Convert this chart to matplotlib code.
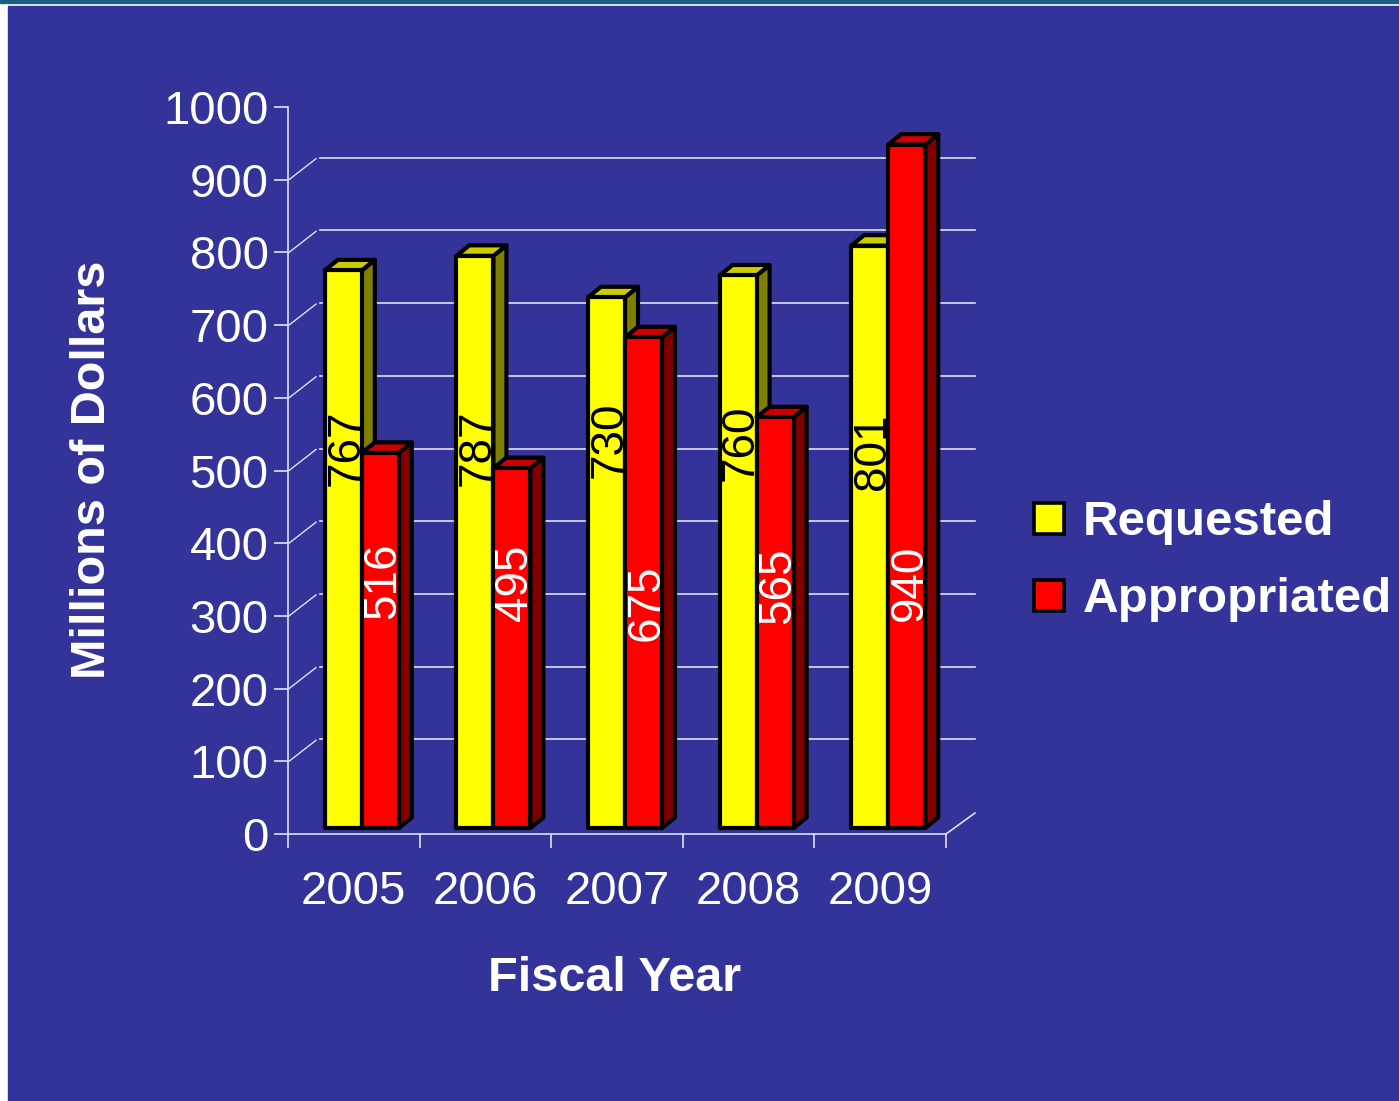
import matplotlib
matplotlib.use("Agg")
import matplotlib.pyplot as plt
from matplotlib.patches import Rectangle, Polygon

plt.rcParams['font.family'] = ['Liberation Sans', 'DejaVu Sans']

# ---- data ----
years = ["2005", "2006", "2007", "2008", "2009"]
requested = [767, 787, 730, 760, 801]
appropriated = [516, 495, 675, 565, 940]
series_names = ["Requested", "Appropriated"]
y_ticks = [0, 100, 200, 300, 400, 500, 600, 700, 800, 900, 1000]

# ---- style ----
W, H = 1399, 1101
BG = "#333399"
GRID = "#e2e2f0"
face = {"Requested": ("#ffff00", "#cccc00", "#808000"),
        "Appropriated": ("#ff0000", "#cc0000", "#800000")}
# label centre heights (in value units) as they sit in the original
req_label_y = [531, 531, 542, 538, 526]
app_label_y = [349, 345, 318, 341, 345]

fig = plt.figure(figsize=(W / 100, H / 100), dpi=100)
fig.patch.set_facecolor("white")
fig.add_artist(Rectangle((8 / W, 0), 1 - 8 / W, (H - 6) / H,
                         transform=fig.transFigure, color=BG, zorder=-10))
fig.add_artist(Rectangle((0, (H - 3) / H), 1, 3 / H,
                         transform=fig.transFigure, color="#1b5e84", zorder=-9))

ax = fig.add_axes([288 / W, (H - 834) / H, 658 / W, 727 / H])
ax.set_xlim(0, len(years))
ax.set_ylim(0, 1000)
ax.patch.set_visible(False)

# pixel -> data helpers
px_x = len(years) / 658.0
px_y = 1000 / 727.0

for s in ["top", "right"]:
    ax.spines[s].set_visible(False)
for s in ["left", "bottom"]:
    ax.spines[s].set_color(GRID)
    ax.spines[s].set_linewidth(1.2)

ax.set_yticks(y_ticks)
ax.set_yticklabels([str(v) for v in y_ticks])
ax.tick_params(axis="y", colors=GRID, length=10, width=1.2, labelsize=34,
               labelcolor="white", pad=4)
ax.set_xticks(range(len(years) + 1))
ax.set_xticklabels([])
ax.set_xticks([i + 0.5 for i in range(len(years))], minor=True)
ax.set_xticklabels(years, minor=True)
ax.tick_params(axis="x", which="major", colors=GRID, length=10, width=1.2)
ax.tick_params(axis="x", which="minor", length=0, labelsize=34,
               labelcolor="white", pad=26)

# back wall gridlines and left wall diagonals
gx0, gx1 = 32 * px_x, 687 * px_x
gdy = 22 * px_y
for v in y_ticks[1:-1]:
    ax.plot([gx0, gx1], [v + gdy, v + gdy], color=GRID, lw=1.2,
            clip_on=False, zorder=1)
    ax.plot([1 * px_x, 28 * px_x], [v, v + 21 * px_y], color=GRID, lw=1.0,
            clip_on=False, zorder=1)
ax.plot([len(years), len(years) + 29 * px_x], [0, 21 * px_y], color=GRID,
        lw=1.2, clip_on=False, zorder=1)

# bars
bw = 37 * px_x
sx, sy = 8 * px_x, 6 * px_y
ddx, ddy = 13 * px_x, 10.5 * px_y
lw = 3.0
lab_dx = 3 * px_x

def bar3d(xl, val, name):
    fc, tc, sc = face[name]
    xr = xl + bw
    y0 = sy
    top = val + sy
    ax.add_patch(Polygon([(xr, y0), (xr + ddx, y0 + ddy), (xr + ddx, top + ddy), (xr, top)],
                         closed=True, facecolor=sc, edgecolor="black", lw=lw,
                         joinstyle="round", clip_on=False, zorder=3))
    ax.add_patch(Polygon([(xl, top), (xl + ddx, top + ddy), (xr + ddx, top + ddy), (xr, top)],
                         closed=True, facecolor=tc, edgecolor="black", lw=lw,
                         joinstyle="round", clip_on=False, zorder=3))
    ax.add_patch(Rectangle((xl, y0), bw, val, facecolor=fc, edgecolor="black",
                           lw=lw, joinstyle="round", clip_on=False, zorder=3))

for i in range(len(years)):
    xl_req = i + 0.5 - bw + sx
    xl_app = i + 0.5 + sx
    bar3d(xl_req, requested[i], series_names[0])
    bar3d(xl_app, appropriated[i], series_names[1])
    ax.text(xl_req + bw / 2 + lab_dx, req_label_y[i], str(requested[i]), rotation=90,
            ha="center", va="center", fontsize=33, color="black", zorder=5)
    ax.text(xl_app + bw / 2 + lab_dx, app_label_y[i], str(appropriated[i]), rotation=90,
            ha="center", va="center", fontsize=33, color="white", zorder=5)

# axis titles
fig.text(93 / W, 1 - 470 / H, "Millions of Dollars", rotation=90, ha="center",
         va="center", fontsize=35, fontweight="bold", color="white")
fig.text(615 / W, 1 - 991 / H, "Fiscal Year", ha="center", va="baseline",
         fontsize=35, fontweight="bold", color="white")

# legend
for k, name in enumerate(series_names):
    ytop = 503 + k * 77
    fig.add_artist(Rectangle((1034 / W, 1 - (ytop + 31) / H), 30 / W, 31 / H,
                             transform=fig.transFigure, facecolor=face[name][0],
                             edgecolor="black", lw=2.6))
    fig.text(1083 / W, 1 - (535 + k * 77) / H, name, ha="left", va="baseline",
             fontsize=35.5, fontweight="bold", color="white")

fig.savefig("out.png", dpi=100, facecolor=fig.get_facecolor())
